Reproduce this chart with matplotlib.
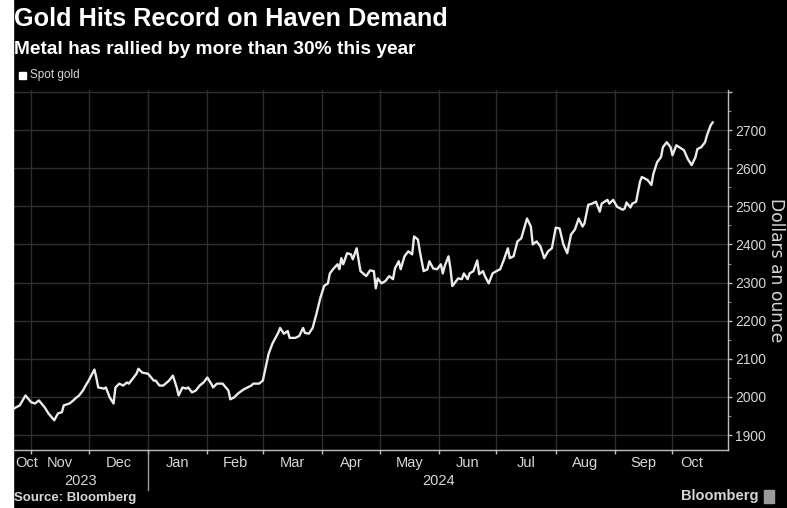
import pandas as pd
import numpy as np
import matplotlib.pyplot as plt
import matplotlib.dates as mdates
from matplotlib.patches import Rectangle
from matplotlib.ticker import MultipleLocator, FixedLocator, NullFormatter

SANS = ['Liberation Sans', 'DejaVu Sans']

# spot gold, dollars an ounce
dates = [
    '2023-10-23', '2023-10-26', '2023-10-29', '2023-11-01', '2023-11-03', '2023-11-05',
    '2023-11-08', '2023-11-10', '2023-11-13', '2023-11-15', '2023-11-17', '2023-11-18',
    '2023-11-21', '2023-11-23', '2023-11-24', '2023-11-26', '2023-11-28', '2023-11-30',
    '2023-12-01', '2023-12-04', '2023-12-05', '2023-12-06', '2023-12-09', '2023-12-10',
    '2023-12-12', '2023-12-14', '2023-12-15', '2023-12-17', '2023-12-19', '2023-12-21',
    '2023-12-22', '2023-12-24', '2023-12-26', '2023-12-27', '2023-12-29', '2024-01-01',
    '2024-01-04', '2024-01-05', '2024-01-07', '2024-01-09', '2024-01-12', '2024-01-14',
    '2024-01-16', '2024-01-17', '2024-01-19', '2024-01-21', '2024-01-22', '2024-01-24',
    '2024-01-26', '2024-01-28', '2024-01-30', '2024-02-01', '2024-02-03', '2024-02-04',
    '2024-02-06', '2024-02-09', '2024-02-12', '2024-02-13', '2024-02-15', '2024-02-17',
    '2024-02-20', '2024-02-22', '2024-02-24', '2024-02-25', '2024-02-28', '2024-03-01',
    '2024-03-03', '2024-03-04', '2024-03-06', '2024-03-09', '2024-03-10', '2024-03-12',
    '2024-03-14', '2024-03-15', '2024-03-18', '2024-03-20', '2024-03-22', '2024-03-23',
    '2024-03-25', '2024-03-27', '2024-03-29', '2024-03-31', '2024-04-02', '2024-04-04',
    '2024-04-05', '2024-04-07', '2024-04-09', '2024-04-10', '2024-04-11', '2024-04-12',
    '2024-04-14', '2024-04-16', '2024-04-17', '2024-04-19', '2024-04-21', '2024-04-24',
    '2024-04-26', '2024-04-28', '2024-04-29', '2024-04-30', '2024-05-02', '2024-05-04',
    '2024-05-06', '2024-05-08', '2024-05-09', '2024-05-11', '2024-05-12', '2024-05-14',
    '2024-05-16', '2024-05-18', '2024-05-19', '2024-05-21', '2024-05-22', '2024-05-24',
    '2024-05-26', '2024-05-27', '2024-05-29', '2024-05-31', '2024-06-02', '2024-06-03',
    '2024-06-04', '2024-06-06', '2024-06-07', '2024-06-08', '2024-06-10', '2024-06-11',
    '2024-06-13', '2024-06-14', '2024-06-16', '2024-06-17', '2024-06-19', '2024-06-21',
    '2024-06-22', '2024-06-24', '2024-06-25', '2024-06-27', '2024-06-29', '2024-07-01',
    '2024-07-03', '2024-07-05', '2024-07-07', '2024-07-08', '2024-07-10', '2024-07-12',
    '2024-07-14', '2024-07-17', '2024-07-19', '2024-07-20', '2024-07-22', '2024-07-24',
    '2024-07-26', '2024-07-28', '2024-07-30', '2024-08-01', '2024-08-03', '2024-08-05',
    '2024-08-07', '2024-08-09', '2024-08-11', '2024-08-13', '2024-08-15', '2024-08-16',
    '2024-08-18', '2024-08-20', '2024-08-22', '2024-08-24', '2024-08-25', '2024-08-28',
    '2024-08-29', '2024-08-31', '2024-09-02', '2024-09-05', '2024-09-06', '2024-09-07',
    '2024-09-09', '2024-09-10', '2024-09-12', '2024-09-14', '2024-09-15', '2024-09-18',
    '2024-09-20', '2024-09-21', '2024-09-23', '2024-09-25', '2024-09-26', '2024-09-28',
    '2024-09-30', '2024-10-01', '2024-10-03', '2024-10-06', '2024-10-07', '2024-10-09',
    '2024-10-11', '2024-10-13', '2024-10-14', '2024-10-16', '2024-10-18', '2024-10-19',
    '2024-10-21', '2024-10-22',
]
prices = [
    1970, 1978, 2004, 1986, 1983, 1991,
    1973, 1957, 1939, 1957, 1960, 1978,
    1983, 1991, 1996, 2004, 2017, 2035,
    2043, 2072, 2051, 2025, 2022, 2025,
    1999, 1983, 2025, 2035, 2030, 2038,
    2035, 2048, 2061, 2074, 2064, 2061,
    2043, 2043, 2030, 2030, 2043, 2056,
    2025, 2004, 2025, 2022, 2025, 2012,
    2017, 2030, 2038, 2051, 2035, 2025,
    2035, 2035, 2017, 1994, 1999, 2009,
    2020, 2025, 2030, 2035, 2035, 2043,
    2090, 2113, 2140, 2168, 2181, 2166,
    2173, 2155, 2155, 2160, 2181, 2168,
    2166, 2181, 2218, 2259, 2291, 2298,
    2324, 2337, 2348, 2335, 2364, 2348,
    2377, 2374, 2361, 2390, 2330, 2317,
    2332, 2330, 2285, 2311, 2298, 2304,
    2317, 2309, 2337, 2356, 2335, 2369,
    2382, 2374, 2421, 2413, 2382, 2330,
    2335, 2356, 2337, 2335, 2348, 2324,
    2343, 2369, 2337, 2291, 2304, 2311,
    2309, 2324, 2309, 2324, 2330, 2358,
    2322, 2330, 2317, 2298, 2324, 2330,
    2335, 2361, 2390, 2364, 2369, 2408,
    2416, 2468, 2447, 2400, 2408, 2395,
    2364, 2382, 2390, 2444, 2442, 2400,
    2377, 2426, 2439, 2468, 2447, 2455,
    2504, 2507, 2512, 2486, 2507, 2517,
    2507, 2517, 2499, 2491, 2494, 2510,
    2497, 2507, 2512, 2564, 2577, 2569,
    2556, 2585, 2616, 2629, 2655, 2668,
    2655, 2634, 2660, 2650, 2647, 2624,
    2608, 2629, 2650, 2655, 2668, 2686,
    2713, 2720,
]

month_labels = ['Oct', 'Nov', 'Dec', 'Jan', 'Feb', 'Mar', 'Apr', 'May',
                'Jun', 'Jul', 'Aug', 'Sep', 'Oct']
month_starts = pd.date_range('2023-11-01', '2024-10-01', freq='MS')
y_ticks = list(range(1900, 2801, 100))

df = pd.DataFrame({'date': pd.to_datetime(dates), 'price': prices})

bg = '#000000'
fg = '#d6d6d6'
grid_c = '#2e2e2e'

fig = plt.figure(figsize=(7.87, 5.08), dpi=100, facecolor=bg)
ax = fig.add_axes([14 / 787, 1 - 450 / 508, (728 - 14) / 787, (450 - 90) / 508])
ax.set_facecolor(bg)

ax.plot(df['date'], df['price'], color='#ebebeb', lw=1.7, solid_joinstyle='round')

x0 = pd.Timestamp('2023-10-23')
x1 = pd.Timestamp('2024-10-30')
ax.set_xlim(x0, x1)
ax.set_ylim(1861, 2805)

# gridlines at month starts and every $100
for d in month_starts:
    ax.axvline(d, color=grid_c, lw=1, zorder=0)
for v in y_ticks:
    ax.axhline(v, color=grid_c, lw=1, zorder=0)

for s in ['top', 'left']:
    ax.spines[s].set_visible(False)
for s in ['bottom', 'right']:
    ax.spines[s].set_color('#bdbdbd')
    ax.spines[s].set_linewidth(1)

# y axis on the right
ax.yaxis.tick_right()
ax.set_yticks(y_ticks)
ax.set_yticklabels([str(v) if v < 2800 else '' for v in y_ticks])
ax.yaxis.set_minor_locator(MultipleLocator(50))
ax.tick_params(axis='y', which='major', colors='#bdbdbd', length=3, width=1, pad=2,
               labelcolor=fg, labelsize=10)
ax.tick_params(axis='y', which='minor', colors='#8a8a8a', length=2, width=0.8)
for lbl in ax.get_yticklabels():
    lbl.set_family(SANS)
fig.text(776 / 787, 1 - 270 / 508, 'Dollars an ounce', rotation=-90, color=fg,
         fontsize=12.3, family='DejaVu Sans', ha='center', va='center')

# x axis: ticks at month starts, labels in the middle of each month's visible span
ax.xaxis.set_major_locator(FixedLocator(mdates.date2num(month_starts)))
ax.xaxis.set_major_formatter(NullFormatter())
ax.tick_params(axis='x', which='major', colors='#bdbdbd', length=3, width=1)
edges = [x0 + pd.Timedelta(days=4)] + list(month_starts) + [pd.Timestamp('2024-10-21')]
mids = [edges[i] + (edges[i + 1] - edges[i]) / 2 for i in range(len(month_labels))]
xt = ax.get_xaxis_transform()
for m, lab in zip(mids, month_labels):
    ax.text(m, -0.035, lab, transform=xt, ha='center', va='center',
            color=fg, fontsize=10.5, family=SANS)
ax.text(pd.Timestamp('2023-11-27'), -0.087, '2023', transform=xt,
        ha='center', va='center', color=fg, fontsize=10.5, family=SANS)
ax.text(pd.Timestamp('2024-06-01'), -0.087, '2024', transform=xt,
        ha='center', va='center', color=fg, fontsize=10.5, family=SANS)
ax.plot([pd.Timestamp('2024-01-01')] * 2, [0, -0.11], transform=xt,
        color='#9a9a9a', lw=1, clip_on=False)

# titles, legend key and footer
fig.text(14 / 787, 1 - 19 / 508, 'Gold Hits Record on Haven Demand', color='white',
         fontsize=18.2, fontweight='bold', family=SANS, va='center')
fig.text(14 / 787, 1 - 50 / 508, 'Metal has rallied by more than 30% this year', color='white',
         fontsize=13.8, fontweight='bold', family=SANS, va='center')
fig.patches.append(Rectangle((19 / 787, 1 - 79 / 508), 7 / 787, 7 / 508, color='white',
                             transform=fig.transFigure))
fig.text(30 / 787, 1 - 75 / 508, 'Spot gold', color=fg, fontsize=8.5, family=SANS,
         va='center')
fig.text(14 / 787, 1 - 498 / 508, 'Source: Bloomberg', color=fg, fontsize=9.5,
         fontweight='bold', family=SANS, va='center')
fig.text(758 / 787, 1 - 496 / 508, 'Bloomberg', color=fg, fontsize=10.5,
         fontweight='bold', family=SANS, va='center', ha='right')
fig.patches.append(Rectangle((764 / 787, 1 - 503 / 508), 10 / 787, 13 / 508,
                             color='#9a9a9a', transform=fig.transFigure))

# white strip on the left edge
fig.patches.append(Rectangle((0, 0), 13 / 787, 1, color='white', transform=fig.transFigure))

fig.savefig('out.png', dpi=100, facecolor=bg)
